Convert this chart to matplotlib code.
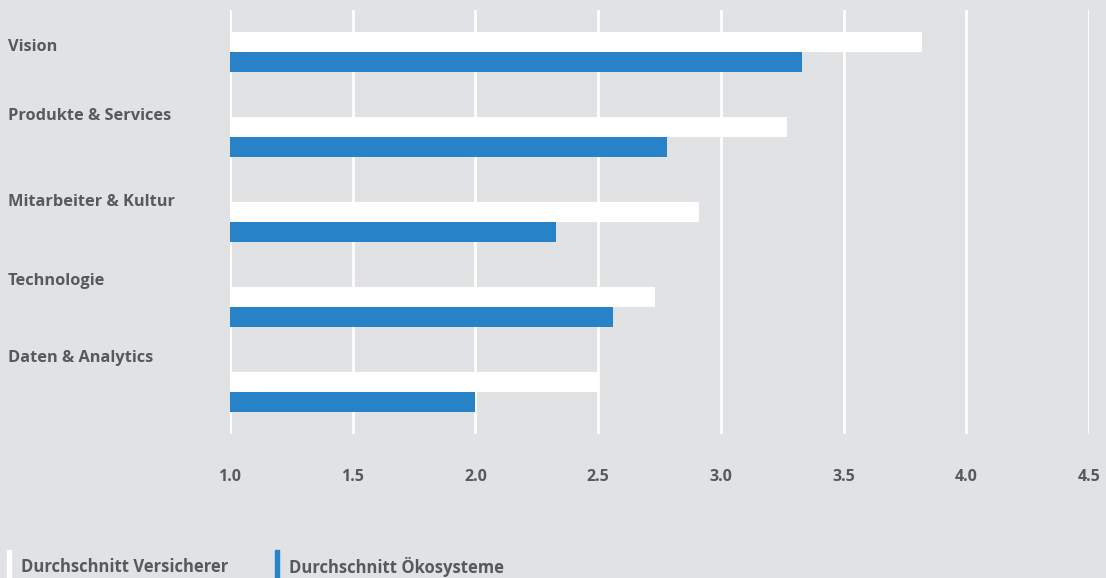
import matplotlib.pyplot as plt
from matplotlib.patches import Rectangle
from matplotlib.transforms import blended_transform_factory

categories = ['Vision', 'Produkte & Services', 'Mitarbeiter & Kultur', 'Technologie', 'Daten & Analytics']
versicherer = [3.82, 3.27, 2.91, 2.73, 2.50]
oekosysteme = [3.33, 2.78, 2.33, 2.56, 2.00]
ticks = [1.0, 1.5, 2.0, 2.5, 3.0, 3.5, 4.0, 4.5]
series_names = ['Durchschnitt Versicherer', 'Durchschnitt Ökosysteme']

bg = '#e1e2e4'
blue = '#2882c8'
txt = '#58595b'
plt.rcParams['font.family'] = ['Open Sans', 'DejaVu Sans']

fig = plt.figure(figsize=(11.06, 5.78), dpi=100, facecolor=bg)
ax = fig.add_axes([230/1106, 1 - 434/578, (1089 - 230)/1106, 424/578])
ax.set_facecolor(bg)

h = 0.235
ys = list(range(len(categories)))
ax.barh([y - h/2 for y in ys], [v - 1 for v in versicherer], left=1, height=h, color='white', zorder=3)
ax.barh([y + h/2 for y in ys], [v - 1 for v in oekosysteme], left=1, height=h, color=blue, zorder=3)

ax.set_xlim(1.0, 4.5)
ax.set_ylim(4.5, -0.5)
ax.set_xticks(ticks)
ax.set_xticklabels([f'{t:.1f}' for t in ticks], fontsize=11.5, fontweight='bold', color=txt)
ax.set_yticks([])
ax.tick_params(axis='x', length=0, pad=25)
ax.grid(axis='x', color='white', linewidth=2, zorder=1)
for s in ax.spines.values():
    s.set_visible(False)

# category labels sit above each pair, at the left edge of the figure
label_off = [-0.06, -0.25, -0.24, -0.31, -0.40]
tr = blended_transform_factory(fig.transFigure, ax.transData)
for y, name, off in zip(ys, categories, label_off):
    ax.text(8/1106, y + off, name, transform=tr, fontsize=11.8,
            fontweight='bold', color=txt, va='center', ha='left', clip_on=False)

# legend at the bottom
for x0, col, name in [(7, 'white', series_names[0]), (275, blue, series_names[1])]:
    fig.patches.append(Rectangle((x0/1106, 0), 4/1106, 28/578, transform=fig.transFigure,
                                 color=col, zorder=5))
    fig.text((x0 + 14)/1106, 1 - 567/578, name, fontsize=12, fontweight='bold',
             color=txt, va='center', ha='left')

fig.savefig('out.png', dpi=100, facecolor=bg)
